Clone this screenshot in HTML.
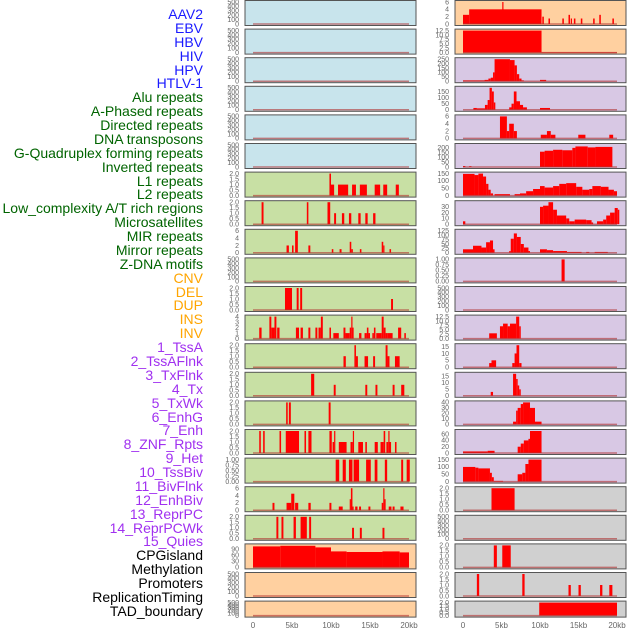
<!DOCTYPE html>
<html><head><meta charset="utf-8">
<style>
html,body{margin:0;padding:0;background:#fff;}
body{width:630px;height:630px;overflow:hidden;position:relative;font-family:"Liberation Sans",sans-serif;}
.lab{position:absolute;right:427px;font-size:14px;line-height:14px;white-space:nowrap;}
</style></head>
<body>
<div id="labels"></div>
<svg id="chart" width="630" height="630" style="position:absolute;left:0;top:0"></svg>
<script>
const labelNames = ["AAV2","EBV","HBV","HIV","HPV","HTLV-1","Alu repeats","A-Phased repeats","Directed repeats","DNA transposons","G-Quadruplex forming repeats","Inverted repeats","L1 repeats","L2 repeats","Low_complexity A/T rich regions","Microsatellites","MIR repeats","Mirror repeats","Z-DNA motifs","CNV","DEL","DUP","INS","INV","1_TssA","2_TssAFlnk","3_TxFlnk","4_Tx","5_TxWk","6_EnhG","7_Enh","8_ZNF_Rpts","9_Het","10_TssBiv","11_BivFlnk","12_EnhBiv","13_ReprPC","14_ReprPCWk","15_Quies","CPGisland","Methylation","Promoters","ReplicationTiming","TAD_boundary"];
const labelColors = ["#1a1aff","#1a1aff","#1a1aff","#1a1aff","#1a1aff","#1a1aff","#006400","#006400","#006400","#006400","#006400","#006400","#006400","#006400","#006400","#006400","#006400","#006400","#006400","#ffa500","#ffa500","#ffa500","#ffa500","#ffa500","#a030f0","#a030f0","#a030f0","#a030f0","#a030f0","#a030f0","#a030f0","#a030f0","#a030f0","#a030f0","#a030f0","#a030f0","#a030f0","#a030f0","#a030f0","#000","#000","#000","#000","#000"];
const leftBg = ["#c8e4ec","#c8e4ec","#c8e4ec","#c8e4ec","#c8e4ec","#c8e4ec","#c8e0a4","#c8e0a4","#c8e0a4","#c8e0a4","#c8e0a4","#c8e0a4","#c8e0a4","#c8e0a4","#c8e0a4","#c8e0a4","#c8e0a4","#c8e0a4","#c8e0a4","#ffd0a0","#ffd0a0","#ffd0a0"];
const rightBg = ["#ffd0a0","#ffd0a0","#d8c8e4","#d8c8e4","#d8c8e4","#d8c8e4","#d8c8e4","#d8c8e4","#d8c8e4","#d8c8e4","#d8c8e4","#d8c8e4","#d8c8e4","#d8c8e4","#d8c8e4","#d8c8e4","#d8c8e4","#d0d0d0","#d0d0d0","#d0d0d0","#d0d0d0","#d0d0d0"];
const E=["0","100","200","300","400","500"], T2=["0.0","0.5","1.0","1.5","2.0"];
const leftTicks = [E,E,E,E,E,E,T2,T2,["0","2","4","6"],E,T2,["0","1","2","3","4"],T2,T2,T2,T2,["0.00","0.25","0.50","0.75","1.00"],["0","2","4","6"],T2,["0","30","60","90"],E,E];
const leftYmax = [500,500,500,500,500,500,2,2,6,500,2,4,2,2,2,2,1,6,2,110,500,500];
const rightTicks = [["0","2","4","6"],["0.0","2.5","5.0","7.5","10.0","12.5"],["0","50","100","150","200","250"],["0","50","100","150"],["0","2","4","6"],["0","50","100","150","200"],["0","50","100","150"],["0","10","20","30"],["0","25","50","75","100","125"],["0.00","0.25","0.50","0.75","1.00"],E,["0.0","2.5","5.0","7.5","10.0","12.5"],["0","5","10","15"],["0","5","10","15"],["0","10","20","30","40"],["0","20","40","60"],["0","50","100","150"],T2,E,T2,T2,T2];
const rightYmax = [6,12.5,250,180,6,230,150,38,125,1,500,12.5,16,17,40,70,150,2,500,2,2,2];
// segments: [startKb, endKb, value]
const leftBars = [
 [],[],[],[],[],[],
 [[9.8,10.0,2],[9.9,10.4,1],[10.9,12.2,1],[12.7,13.2,1],[13.7,14.6,1],[15.6,16.3,1],[16.7,17.2,1],[18.3,18.7,1]],
 [[1.1,1.35,2],[6.9,7.1,2],[9.55,9.9,2],[10.4,10.65,1],[11.4,11.7,1],[12.3,12.6,1],[13.5,13.8,1],[14.4,14.7,1],[15.4,15.7,1]],
 [[4.3,4.6,2],[5.0,5.2,2],[5.4,5.75,6],[7.1,7.35,2],[10.1,10.3,1],[11.1,11.35,1],[12.4,12.6,3],[12.6,12.8,1],[13.7,13.9,1],[16.5,16.7,3],[16.7,16.85,2],[17.5,17.7,1]],
 [],
 [[4.1,5.0,2],[5.6,5.85,2],[6.05,6.3,2],[17.7,17.95,1]],
 [[0.8,1.1,2],[2.1,2.35,4],[2.35,2.75,2],[2.75,3.0,4],[3.1,3.4,2],[5.5,5.9,2],[6.1,6.4,2],[7.1,7.35,2],[8.0,8.25,2],[8.4,8.7,2],[8.7,8.95,4],[9.8,10.0,2],[10.3,11.0,1],[11.6,11.85,2],[11.85,12.4,1],[12.4,12.6,2],[12.6,12.75,4],[12.75,12.9,2],[13.6,13.9,1],[14.3,14.6,1],[14.6,14.8,2],[14.8,15.0,1],[15.3,15.5,1],[15.5,15.7,2],[15.8,16.5,1],[16.5,16.75,4],[16.75,17.0,2],[17.0,17.2,1],[17.2,17.9,1],[18.6,19.0,2],[19.4,19.6,1]],
 [[11.6,11.9,1],[13.0,13.2,2],[13.2,13.45,1],[14.3,14.75,1],[15.4,15.65,1],[17.0,17.25,2],[17.25,17.5,1],[18.2,18.8,1]],
 [[7.45,7.85,2],[10.35,10.6,1],[14.4,14.65,1],[15.7,15.95,1],[17.9,18.15,1],[19.0,19.4,1]],
 [[4.25,4.45,2],[4.6,4.85,2],[9.7,9.95,2]],
 [[0.8,1.0,2],[1.3,1.5,2],[3.4,3.6,2],[4.2,5.9,2],[6.6,6.8,2],[7.1,7.5,2],[9.8,10.1,2],[10.2,10.4,1],[10.4,10.55,2],[11.0,12.0,1],[12.5,12.8,1],[12.8,12.95,2],[13.5,14.1,1],[14.4,14.6,1],[15.6,16.0,1],[16.35,16.75,1],[16.75,16.95,2],[17.1,17.35,1],[17.35,17.5,2],[17.5,17.7,1],[18.2,18.4,1]],
 [[10.6,11.05,1],[11.5,11.9,1],[12.3,12.75,1],[12.9,13.6,1],[14.5,15.1,1],[15.6,15.95,1],[16.9,17.2,1],[19.0,19.25,1],[19.7,20.1,1]],
 [[2.5,2.75,2],[4.3,4.9,2],[4.9,5.3,4.5],[5.4,5.8,2],[7.1,7.4,2],[9.8,10.05,2],[11.0,11.5,1],[12.4,12.55,3],[12.55,12.75,6],[12.75,12.9,1],[13.1,13.4,1],[13.6,13.85,1],[14.8,15.05,1],[16.5,16.7,2],[16.7,16.85,6],[16.85,17.0,3],[17.4,17.75,1],[17.9,18.15,1],[18.9,19.3,1]],
 [[3.0,3.25,2],[3.65,3.9,2],[5.2,5.5,2],[6.1,6.9,2],[7.2,7.45,2],[12.7,12.95,1],[13.7,13.95,1],[16.6,16.85,1]],
 [[0,3.5,105],[3.5,8.0,108],[8.0,10.0,100],[10.0,12.0,80],[12.0,16.6,77],[16.6,18.8,80],[18.8,20.0,75]],
 [],[]
];
const rightBars = [
 [[0,0.8,2.5],[0.8,10.2,4],[5.1,5.25,6],[10.3,10.5,2],[11.1,11.3,1.5],[12.9,13.1,1.5],[13.7,13.9,2.5],[14.0,14.15,1.5],[14.4,14.6,1.5],[15.3,15.5,1.5],[16.9,17.1,1.5],[17.7,17.9,2.5],[19.4,19.6,1.5]],
 [[0,10.2,12.5],[10.2,20,0.3]],
 [[0,2.8,10],[2.8,3.3,15],[3.3,3.6,30],[3.6,3.9,40],[3.9,4.1,100],[4.1,6.1,250],[6.1,6.7,240],[6.7,7.0,180],[7.0,7.3,80],[7.3,7.6,30],[7.6,7.9,10],[10.0,10.8,15]],
 [[1.35,1.8,15],[1.8,2.85,12],[2.85,3.2,40],[3.2,3.45,80],[3.45,3.75,180],[3.75,4.0,150],[4.0,4.2,60],[6.0,6.3,20],[6.3,6.6,50],[6.6,6.95,150],[6.95,7.4,70],[7.4,7.8,40],[7.8,8.3,20],[10.0,11.3,15]],
 [[4.8,5.7,6],[5.7,6.0,2],[6.0,6.6,4],[6.6,7.0,2],[10.1,10.9,1],[10.9,11.4,2],[11.4,12.0,1],[14.97,15.9,1],[19.0,19.5,1]],
 [[0,0.3,10],[0.8,1.1,8],[10.0,10.6,160],[10.6,11.7,170],[11.7,12.9,180],[12.9,14.2,175],[14.2,14.6,200],[14.6,16.2,215],[16.2,17.2,205],[17.2,19.4,210]],
 [[0,1.5,148],[1.5,2.0,140],[2.0,2.6,150],[2.6,3.0,130],[3.0,3.3,80],[3.3,3.6,40],[3.6,3.9,15],[4.1,6.1,10],[6.7,7.4,10],[7.4,8.2,15],[8.2,9.1,30],[9.1,10.0,45],[10.0,10.6,65],[10.6,11.7,55],[11.7,12.5,65],[12.5,13.4,80],[13.4,14.7,85],[14.7,15.5,60],[15.5,16.4,40],[16.4,16.8,45],[16.8,17.9,65],[17.9,18.9,60],[18.9,19.6,40],[19.6,20.0,30]],
 [[0,0.3,5],[10.0,10.4,30],[10.4,11.1,32],[11.1,11.7,38],[11.7,12.2,25],[12.2,13.4,15],[13.4,13.8,10],[13.8,14.5,5],[14.5,16.0,8],[16.0,16.7,7],[16.7,16.9,3],[17.4,18.2,5],[18.2,18.6,8],[18.6,19.1,15],[19.1,19.7,20],[19.7,20.1,28],[20.1,20.3,25]],
 [[0,1.3,20],[1.3,2.4,40],[2.4,3.0,30],[3.0,3.5,60],[3.5,3.9,70],[3.9,4.1,20],[6.0,6.2,10],[6.2,6.6,80],[6.6,7.0,110],[7.0,7.5,90],[7.5,7.9,50],[7.9,8.5,30],[8.5,8.7,10],[10.0,10.9,20],[10.9,11.7,15],[11.7,13.5,10],[13.5,15.4,5],[16.0,16.4,5],[17.1,18.8,5]],
 [[12.8,13.2,1]],
 [],
 [[3.4,4.4,3],[4.8,5.2,7],[5.2,5.8,8.5],[5.8,6.1,7],[6.1,6.9,8.5],[6.9,7.3,12.5],[7.3,7.5,7]],
 [[3.4,3.7,3],[3.7,4.3,5],[6.4,6.7,3],[6.7,6.95,10],[6.95,7.3,16],[7.3,7.6,3]],
 [[3.6,3.9,3],[6.5,6.9,17],[6.9,7.1,13],[7.1,7.3,8],[7.3,7.5,5]],
 [[6.5,6.9,5],[6.9,7.1,25],[7.1,7.5,30],[7.5,7.8,37],[7.8,8.7,40],[8.7,9.35,30],[9.35,10.2,5]],
 [[0,3.2,5],[3.2,4.1,7],[7.1,7.5,20],[7.5,7.9,30],[7.9,8.5,40],[8.5,8.7,45],[8.7,10.2,70]],
 [[0,1.6,100],[1.6,2.0,95],[2.0,3.5,90],[3.5,3.75,60],[3.75,4.0,30],[4.0,5.2,5],[7.1,7.7,50],[7.7,8.1,60],[8.1,8.5,120],[8.5,10.2,150]],
 [[3.7,6.7,2]],
 [],
 [[4.0,4.4,2],[5.1,6.2,2]],
 [[1.8,2.1,2],[7.7,8.0,2],[13.7,14.0,1],[15.0,15.3,1],[17.8,18.1,1],[19.0,19.4,1]],
 [[9.9,20.0,2]]
];
const xTickLabels = ["0","5kb","10kb","15kb","20kb"];
const xTickValues = [0,5,10,15,20];

const NS="http://www.w3.org/2000/svg";
const svg=document.getElementById('chart');
function mk(tag,attrs,parent){const e=document.createElementNS(NS,tag);for(const k in attrs)e.setAttribute(k,attrs[k]);(parent||svg).appendChild(e);return e;}

// labels
const labDiv=document.getElementById('labels');
labelNames.forEach((t,i)=>{
  const d=document.createElement('div');
  d.className='lab';
  d.style.top=(7+i*13.88)+'px';
  d.style.color=labelColors[i];
  d.textContent=t;
  
  
  labDiv.appendChild(d);
});

const cols=[
 {px0:245,px1:416,x0:253,x1:409,bg:leftBg,ticks:leftTicks,ymax:leftYmax,bars:leftBars,tx:239,name:'left'},
 {px0:455,px1:626,x0:463,x1:617,bg:rightBg,ticks:rightTicks,ymax:rightYmax,bars:rightBars,tx:449,name:'right'}
];
cols.forEach(c=>{
  const xs=k=>c.x0+(c.x1-c.x0)*k/20;
  for(let i=0;i<22;i++){
    const top=0.5+i*28.6, h=(i==21?16:25);
    const g=mk('g',{});
    
    
    const r=mk('rect',{x:c.px0,y:top,width:c.px1-c.px0,height:h,fill:c.bg[i],stroke:'none'},g);
    
    
    const yb=top+h-1.5, yt=top+1.5;
    const tk=c.ticks[i];
    const ymax=c.ymax[i];
    const ys=v=>yb-(yb-yt)*v/ymax;
    tk.forEach(t=>{
      const tt=mk('text',{x:c.tx,y:ys(parseFloat(t))+2.3,'text-anchor':'end','font-size':7,fill:'#666','font-family':'Liberation Sans, sans-serif'},g);
      
      
      tt.textContent=t;
    });
    c.bars[i].forEach(b=>{
      const x0=xs(b[0]), x1=xs(b[1]);
      const br=mk('rect',{x:x0,y:ys(b[2]),width:Math.max(1.2,x1-x0),height:yb-ys(b[2]),fill:'#ff0000'},g);
      
      
    });
    const bl=mk('line',{x1:xs(0),x2:xs(20),y1:yb,y2:yb,stroke:'#b03030','stroke-width':1.5,'stroke-opacity':0.6},g);
    
    
    const fr=mk('rect',{x:c.px0,y:top,width:c.px1-c.px0,height:h,fill:'none',stroke:'#555','stroke-width':1},g);
    
    
  }
  xTickValues.forEach((v,j)=>{
    const t=mk('text',{x:xs(v),y:628,'text-anchor':'middle','font-size':8,fill:'#666','font-family':'Liberation Sans, sans-serif'});
    
    
    t.textContent=xTickLabels[j];
  });
});
</script>
</body></html>
